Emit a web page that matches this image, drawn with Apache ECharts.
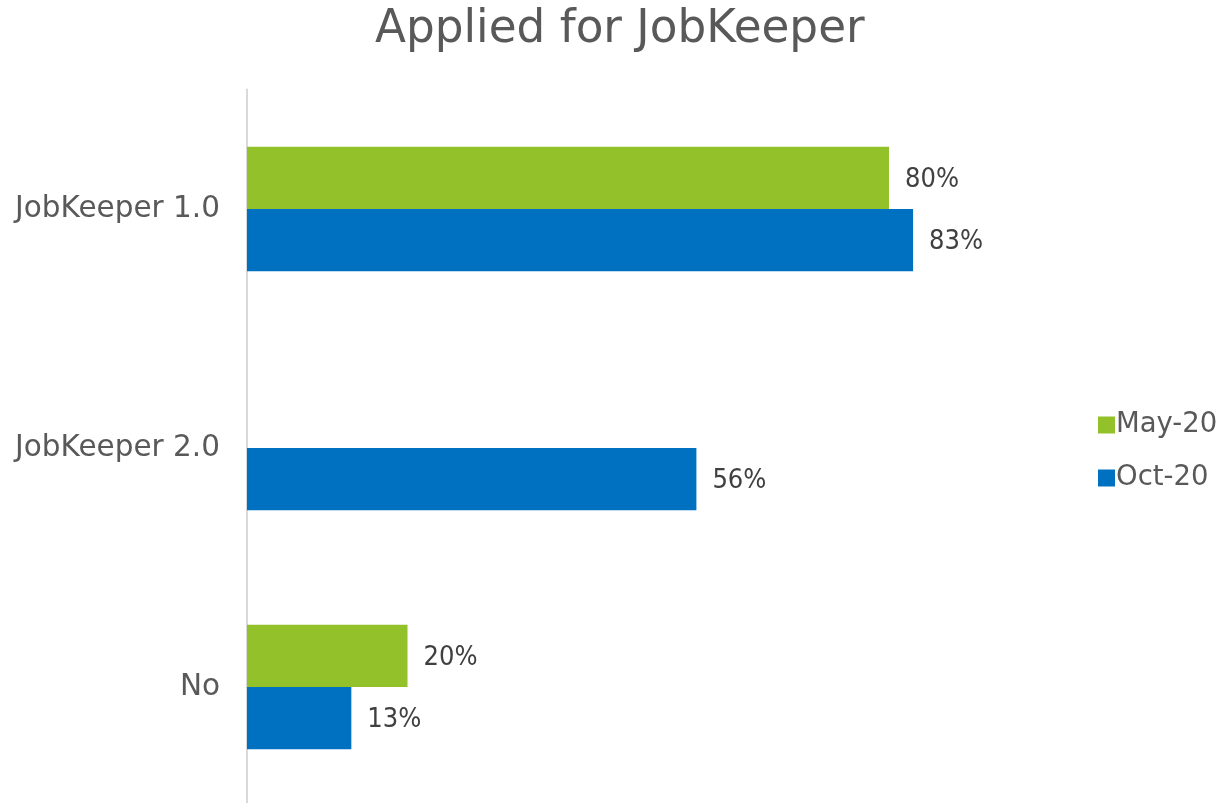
<!DOCTYPE html>
<html>
<head>
<meta charset="utf-8">
<script src="https://cdn.jsdelivr.net/npm/echarts@6/dist/echarts.min.js"></script>
<style>
html,body{margin:0;padding:0;background:#fff;overflow:hidden;}
#chart{width:1221px;height:810px;}
</style>
</head>
<body>
<div id="chart"></div>
<script>
const categories = ['JobKeeper 1.0', 'JobKeeper 2.0', 'No'];
const seriesNames = ['May-20', 'Oct-20'];
const may20 = [80, null, 20];
const oct20 = [83, 56, 13];

const chart = echarts.init(document.getElementById('chart'));
const labelStyle = {
  show: true,
  position: 'right',
  distance: 16,
  offset: [0, 2],
  formatter: p => p.value + '%',
  fontFamily: 'DejaVu Sans Condensed',
  fontSize: 27,
  color: '#404040'
};
chart.setOption({
  animation: false,
  title: {
    text: 'Applied for JobKeeper',
    left: 370,
    top: 3,
    textStyle: { fontFamily: 'DejaVu Sans', fontSize: 45.3, fontWeight: 'normal', color: '#595959' }
  },
  legend: {
    orient: 'vertical',
    left: 1093,
    top: 406,
    itemWidth: 17,
    itemHeight: 17,
    itemGap: 25,
    icon: 'rect',
    textStyle: { fontFamily: 'DejaVu Sans', fontSize: 27.5, color: '#595959', padding: [0, 0, 0, -4] },
    data: seriesNames
  },
  grid: { left: 247, right: 171.5, top: 89.5, height: 717, containLabel: false },
  xAxis: {
    type: 'value',
    min: 0,
    max: 100,
    show: false
  },
  yAxis: {
    type: 'category',
    data: categories,
    inverse: true,
    axisLine: { show: true, lineStyle: { color: '#d9d9d9', width: 2 } },
    axisTick: { show: false },
    axisLabel: { fontFamily: 'DejaVu Sans', fontSize: 29.5, color: '#595959', margin: 27 }
  },
  series: [
    {
      name: seriesNames[0], type: 'bar', data: may20,
      itemStyle: { color: '#92C12A' },
      barGap: '0%', barCategoryGap: '48%',
      label: labelStyle
    },
    {
      name: seriesNames[1], type: 'bar', data: oct20,
      itemStyle: { color: '#0070C0' },
      barGap: '0%', barCategoryGap: '48%',
      label: labelStyle
    }
  ]
});
</script>
</body>
</html>
